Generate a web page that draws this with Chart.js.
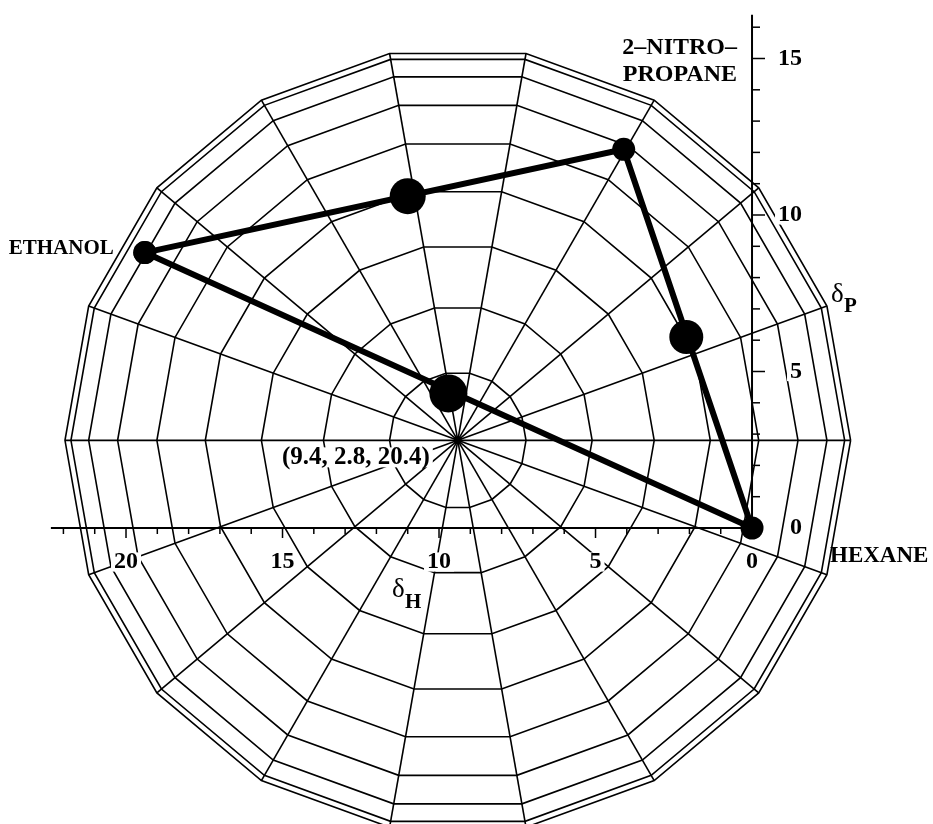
<!DOCTYPE html>
<html>
<head>
<meta charset="utf-8">
<script src="https://cdn.jsdelivr.net/npm/chart.js@4"></script>
<style>
  body { margin: 0; background: #fff; }
  canvas { display: block; }
</style>
</head>
<body>
<canvas id="grafico" width="933" height="824"></canvas>
<script>
// Solventes (vertices del triangulo)
const solventes = ["ETHANOL", "2–NITRO–PROPANE", "HEXANE"];
const solventesH = [19.4, 4.1, 0];
const solventesP = [8.8, 12.1, 0];

// Mezclas (puntos grandes)
const mezclasH = [11.0, 2.1, 9.7];
const mezclasP = [10.6, 6.1, 4.3];

// Centro de la esfera
const centro = [9.4, 2.8];
const centroTexto = "(9.4, 2.8, 20.4)";

// Etiquetas de los ejes
const ticksH = [0, 5, 10, 15, 20];
const ticksP = [0, 5, 10, 15];

// Red polar (anillos en grados de latitud, radios cada 20 grados)
const anillos = [10, 20, 30, 40, 50, 60, 70, 80, 90];
const radios = [0, 20, 40, 60, 80, 100, 120, 140, 160, 180, 200, 220, 240, 260, 280, 300, 320, 340];
const radioX = 12.55;
const radioY = 12.55;

const rad = g => g * Math.PI / 180;

// ----------- RED POLAR ----------
const red = [];
anillos.forEach(a => {
    const pts = radios.concat([radios[0]]).map(r => ({
        x: centro[0] - radioX * Math.sin(rad(a)) * Math.cos(rad(r)),
        y: centro[1] + radioY * Math.sin(rad(a)) * Math.sin(rad(r))
    }));
    red.push({ data: pts, showLine: true, borderColor: "#000", borderWidth: 1.6, pointRadius: 0, order: 10 });
});
radios.forEach(r => {
    red.push({
        data: [
            { x: centro[0], y: centro[1] },
            { x: centro[0] - radioX * Math.cos(rad(r)), y: centro[1] + radioY * Math.sin(rad(r)) }
        ],
        showLine: true, borderColor: "#000", borderWidth: 1.6, pointRadius: 0, order: 10
    });
});

// ----------- TRIANGULO ----------
const triangulo = solventesH.concat([solventesH[0]]).map((h, i) => ({
    x: h, y: solventesP.concat([solventesP[0]])[i]
}));

const fuente = "'Liberation Serif', 'DejaVu Serif', serif";

function texto(ctx, t, x, y, align, size, bold, fondo) {
    ctx.font = (bold ? "bold " : "") + size + "px " + fuente;
    ctx.textAlign = align;
    ctx.textBaseline = "middle";
    if (fondo) {
        const w = ctx.measureText(t).width;
        let x0 = align === "right" ? x - w : align === "center" ? x - w / 2 : x;
        ctx.fillStyle = "#fff";
        ctx.fillRect(x0 - 3, y - size * 0.4, w + 6, size * 0.8);
    }
    ctx.fillStyle = "#000";
    ctx.fillText(t, x, y);
}

const ejes = {
    id: "ejes",
    afterDatasetsDraw(chart) {
        const ctx = chart.ctx;
        const sx = chart.scales.x, sy = chart.scales.y;
        const x0 = sx.getPixelForValue(0), y0 = sy.getPixelForValue(0);
        ctx.save();
        ctx.strokeStyle = "#000";

        // eje deltaH
        ctx.lineWidth = 2;
        ctx.beginPath();
        ctx.moveTo(sx.getPixelForValue(22.4), y0);
        ctx.lineTo(x0, y0);
        ctx.stroke();
        ctx.lineWidth = 1.5;
        for (let v = 1; v <= 22; v++) {
            const px = sx.getPixelForValue(v);
            ctx.beginPath();
            ctx.moveTo(px, y0);
            ctx.lineTo(px, y0 + (v % 5 === 0 ? 10 : 6));
            ctx.stroke();
        }

        // eje deltaP
        ctx.lineWidth = 2;
        ctx.beginPath();
        ctx.moveTo(x0, y0);
        ctx.lineTo(x0, sy.getPixelForValue(16.4));
        ctx.stroke();
        ctx.lineWidth = 1.5;
        for (let v = 1; v <= 16; v++) {
            const py = sy.getPixelForValue(v);
            ctx.beginPath();
            ctx.moveTo(x0, py);
            ctx.lineTo(x0 + (v % 5 === 0 ? 13 : 8), py);
            ctx.stroke();
        }

        ticksH.forEach(v => texto(ctx, String(v), sx.getPixelForValue(v), y0 + 34, "center", 24, true, true));
        ticksP.forEach(v => texto(ctx, String(v), x0 + 50, sy.getPixelForValue(v), "right", 24, true, true));

        // nombres de los solventes
        texto(ctx, "ETHANOL", sx.getPixelForValue(solventesH[0]) - 31, sy.getPixelForValue(solventesP[0]) - 4, "right", 21, true, false);
        texto(ctx, "2–NITRO–", x0 - 15, 48, "right", 24, true, false);
        texto(ctx, "PROPANE", x0 - 15, 75, "right", 24, true, false);
        texto(ctx, "HEXANE", x0 + 78, y0 + 28, "left", 23, true, false);

        // centro
        const cx = sx.getPixelForValue(centro[0]), cy = sy.getPixelForValue(centro[1]);
        texto(ctx, centroTexto, cx - 28, cy + 17, "right", 25, true, true);
        ctx.fillStyle = "#000";
        ctx.beginPath();
        ctx.arc(cx, cy, 4, 0, Math.PI * 2);
        ctx.fill();

        // simbolos de los ejes
        texto(ctx, "δ", 392, 590, "left", 27, false, false);
        texto(ctx, "H", 405, 603, "left", 21, true, false);
        texto(ctx, "δ", 831, 295, "left", 27, false, false);
        texto(ctx, "P", 844, 307, "left", 21, true, false);
        ctx.restore();
    }
};

new Chart(document.getElementById("grafico"), {
    type: "scatter",
    data: {
        datasets: [
            {
                label: "Solventes",
                data: triangulo,
                showLine: true,
                borderColor: "#000",
                borderWidth: 6,
                backgroundColor: "#000",
                pointRadius: 11.5,
                pointBorderWidth: 0,
                order: 1
            },
            {
                label: "Mezclas",
                data: mezclasH.map((h, i) => ({ x: h, y: mezclasP[i] })),
                backgroundColor: "#000",
                pointRadius: [18, 17, 19],
                pointBorderWidth: 0,
                order: 0
            },
            ...red
        ]
    },
    options: {
        responsive: false,
        animation: false,
        events: [],
        layout: { padding: 0, autoPadding: false },
        plugins: { legend: { display: false }, tooltip: { enabled: false } },
        scales: {
            x: { type: "linear", reverse: true, min: -5.782, max: 24.026, display: false },
            y: { type: "linear", min: -9.457, max: 16.869, display: false }
        }
    },
    plugins: [ejes]
});
</script>
</body>
</html>
